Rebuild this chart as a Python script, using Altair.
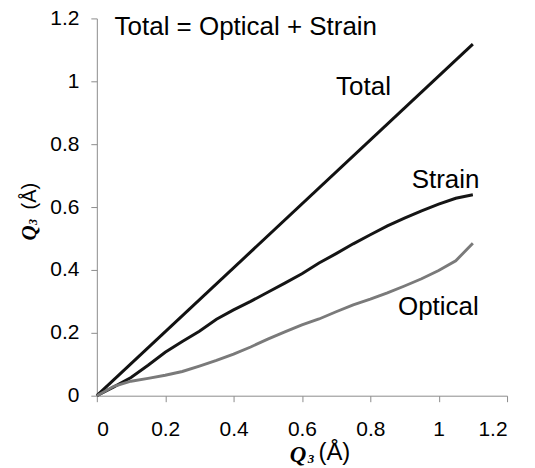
import altair as alt
import pandas as pd

# ---- data ----
x_vals = [0, 0.05, 0.1, 0.15, 0.2, 0.25, 0.3, 0.35, 0.4, 0.45, 0.5, 0.55,
          0.6, 0.65, 0.7, 0.75, 0.8, 0.85, 0.9, 0.95, 1.0, 1.05, 1.1]
strain = [0, 0.028, 0.058, 0.097, 0.138, 0.172, 0.205, 0.243, 0.273, 0.300,
          0.329, 0.358, 0.388, 0.422, 0.452, 0.483, 0.512, 0.540, 0.565,
          0.588, 0.609, 0.628, 0.639]
optical = [0, 0.030, 0.046, 0.055, 0.065, 0.077, 0.094, 0.112, 0.132, 0.155,
           0.180, 0.203, 0.225, 0.244, 0.267, 0.289, 0.307, 0.327, 0.349,
           0.372, 0.398, 0.429, 0.485]
total_x = [0, 1.1]
total_y = [0, 1.118]

series_names = ["Total", "Strain", "Optical"]
series_colors = ["#111111", "#151515", "#7a7a7a"]
series_widths = [3.0, 2.9, 2.8]

ann_text = ["Total = Optical + Strain", "Total", "Strain", "Optical"]
ann_x = [0.052, 0.700, 0.921, 0.881]
ann_y = [1.147, 0.958, 0.661, 0.258]

tick_vals = [0, 0.2, 0.4, 0.6, 0.8, 1.0, 1.2]

rows = []
for xv, yv in zip(total_x, total_y):
    rows.append({"x": xv, "y": yv, "series": "Total"})
for xv, yv in zip(x_vals, strain):
    rows.append({"x": xv, "y": yv, "series": "Strain"})
for xv, yv in zip(x_vals, optical):
    rows.append({"x": xv, "y": yv, "series": "Optical"})
df = pd.DataFrame(rows)
ann_df = pd.DataFrame({"text": ann_text, "x": ann_x, "y": ann_y})

W, H = 411, 378
sans = "Liberation Sans"
serif = "Liberation Serif"

axis_common = dict(
    values=tick_vals, format="~g", title=None, grid=False,
    domainColor="#8c8c8c", tickColor="#8c8c8c", tickSize=6,
    labelFont=sans, labelFontSize=21, labelColor="#000000",
)

x_enc = alt.X("x:Q", scale=alt.Scale(domain=[0, 1.2], nice=False),
              axis=alt.Axis(labelPadding=17, **axis_common))
y_enc = alt.Y("y:Q", scale=alt.Scale(domain=[0, 1.2], nice=False),
              axis=alt.Axis(labelPadding=12, **axis_common))

lines = alt.Chart(df).mark_line().encode(
    x=x_enc, y=y_enc,
    color=alt.Color("series:N",
                    scale=alt.Scale(domain=series_names, range=series_colors),
                    legend=None),
    strokeWidth=alt.StrokeWidth("series:N",
                                scale=alt.Scale(domain=series_names, range=series_widths),
                                legend=None),
)

ann = alt.Chart(ann_df).mark_text(
    align="left", baseline="alphabetic", font=sans, fontSize=26, color="#000000"
).encode(x="x:Q", y="y:Q", text="text:N")


def label(txt, x, y, font, size, style="normal", weight="normal", angle=0):
    kw = dict(align="center", baseline="alphabetic", font=font, fontSize=size,
              fontStyle=style, fontWeight=weight, color="#000000")
    if angle:
        kw["angle"] = angle
    return alt.Chart(pd.DataFrame({"t": [txt]})).mark_text(**kw).encode(
        x=alt.value(x), y=alt.value(y), text="t:N")


titles = [
    # x-axis title
    label("Q", 201.5, 444, serif, 23, "italic", "bold"),
    label("3", 214.5, 445, serif, 13, "italic", "bold"),
    label("(Å)", 238, 442, sans, 24),
    # y-axis title (rotated)
    label("Q", -61, 215, serif, 21, "italic", "bold", 270),
    label("3", -60, 204, serif, 12, "italic", "bold", 270),
    label("(Å)", -61, 178, sans, 20, angle=270),
]

chart = alt.layer(lines, ann, *titles).properties(
    width=W, height=H,
    autosize=alt.AutoSizeParams(type="none"),
    padding={"left": 89, "top": 10, "right": 20, "bottom": 70},
    background="white",
).configure_view(stroke=None)

chart.save("out.html", embed_options={"renderer": "svg", "actions": False})
